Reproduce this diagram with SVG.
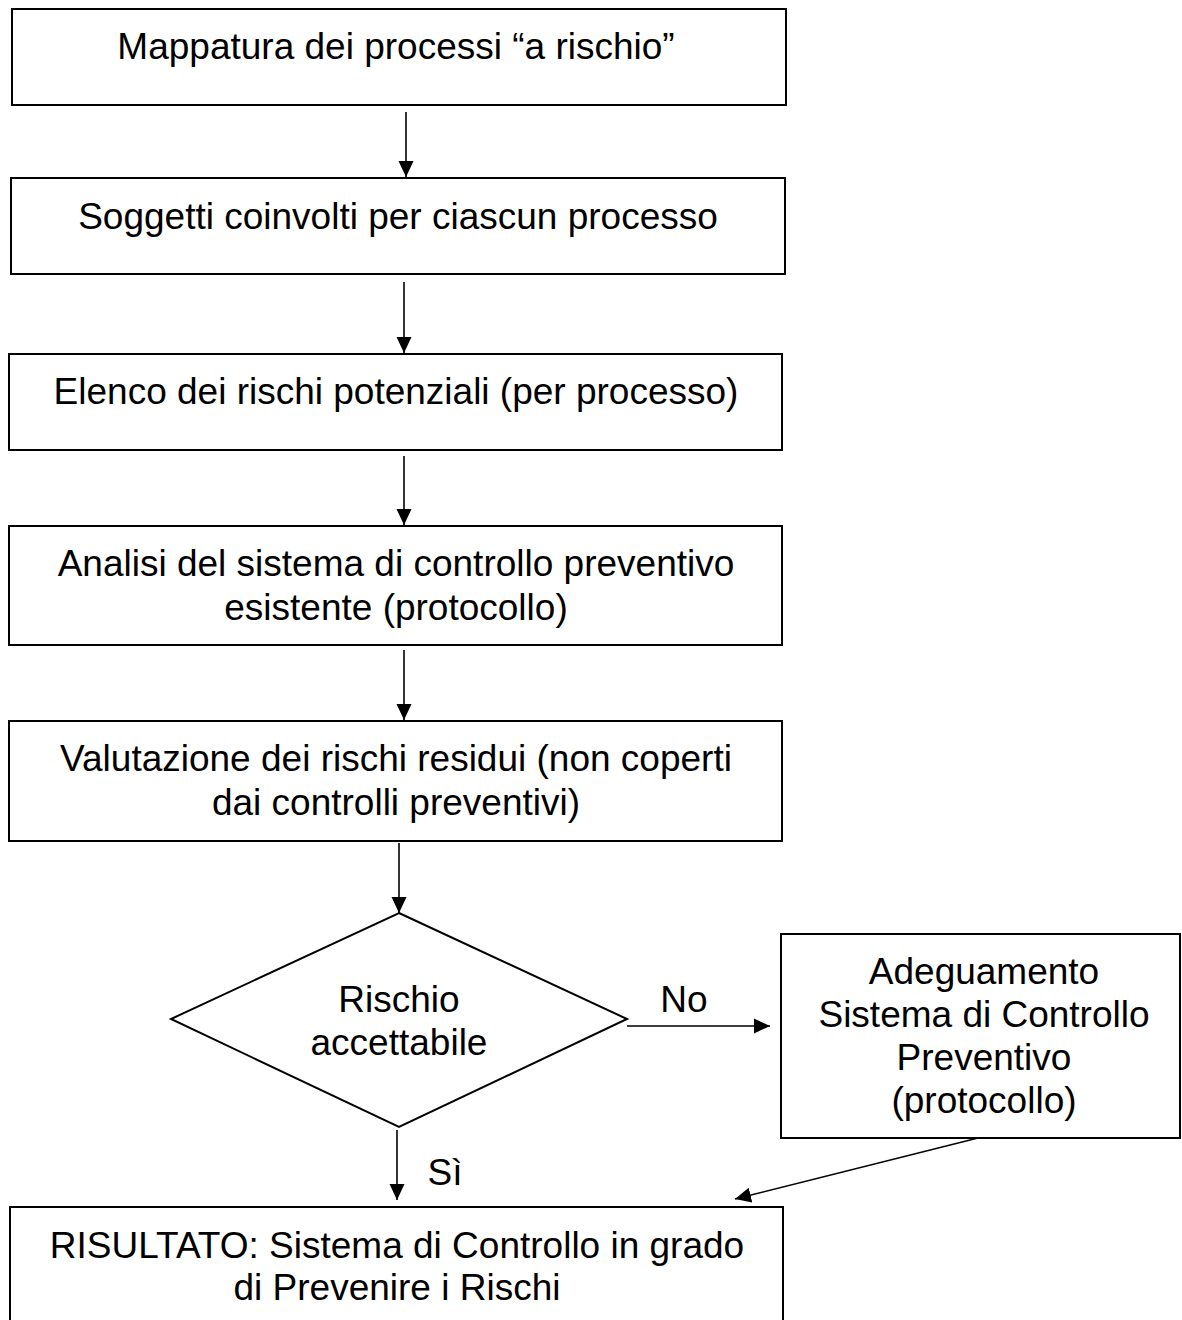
<svg xmlns="http://www.w3.org/2000/svg" width="1182" height="1320" viewBox="0 0 1182 1320">
<defs>
<style>
.box{fill:#fff;stroke:#000;stroke-width:2}
.t{font-family:"Liberation Sans",Arial,sans-serif;font-size:37px;fill:#000;text-anchor:middle}
.c{fill:none;stroke:#000;stroke-width:1.6}
</style>
<marker id="ah" markerUnits="userSpaceOnUse" markerWidth="18" markerHeight="18" viewBox="0 0 18 18" refX="16" refY="9" orient="auto">
<path d="M0,1.5 L16,9 L0,16.5 Z" fill="#000"/>
</marker>
</defs>
<rect width="1182" height="1320" fill="#fff"/>
<g id="connectors">
<line class="c" x1="406" y1="112" x2="406" y2="177" marker-end="url(#ah)"/>
<line class="c" x1="404" y1="282" x2="404" y2="353" marker-end="url(#ah)"/>
<line class="c" x1="404" y1="456" x2="404" y2="525" marker-end="url(#ah)"/>
<line class="c" x1="404" y1="650" x2="404" y2="720" marker-end="url(#ah)"/>
<line class="c" x1="399" y1="843" x2="399" y2="913" marker-end="url(#ah)"/>
<line class="c" x1="627" y1="1026" x2="770" y2="1026" marker-end="url(#ah)"/>
<line class="c" x1="397" y1="1130" x2="397" y2="1200" marker-end="url(#ah)"/>
<line class="c" x1="978" y1="1138" x2="735" y2="1199" marker-end="url(#ah)"/>
<text class="t" x="684" y="1012">No</text>
<text class="t" x="445" y="1185">Sì</text>
</g>
<g id="n1">
<rect class="box" x="12" y="9" width="774" height="96"/>
<text class="t" x="396" y="59">Mappatura dei processi “a rischio”</text>
</g>
<g id="n2">
<rect class="box" x="11" y="178" width="774" height="96"/>
<text class="t" x="398" y="229">Soggetti coinvolti per ciascun processo</text>
</g>
<g id="n3">
<rect class="box" x="9" y="354" width="773" height="96"/>
<text class="t" x="396" y="404">Elenco dei rischi potenziali (per processo)</text>
</g>
<g id="n4">
<rect class="box" x="9" y="526" width="773" height="119"/>
<text class="t" x="396" y="576">Analisi del sistema di controllo preventivo</text>
<text class="t" x="396" y="620">esistente (protocollo)</text>
</g>
<g id="n5">
<rect class="box" x="9" y="721" width="773" height="120"/>
<text class="t" x="396" y="771">Valutazione dei rischi residui (non coperti</text>
<text class="t" x="396" y="815">dai controlli preventivi)</text>
</g>
<g id="n6">
<polygon class="box" points="399,913 627,1019 399,1127 171,1019"/>
<text class="t" x="399" y="1012">Rischio</text>
<text class="t" x="399" y="1055">accettabile</text>
</g>
<g id="n7">
<rect class="box" x="781" y="934" width="399" height="204"/>
<text class="t" x="984" y="984">Adeguamento</text>
<text class="t" x="984" y="1027">Sistema di Controllo</text>
<text class="t" x="984" y="1070">Preventivo</text>
<text class="t" x="984" y="1113">(protocollo)</text>
</g>
<g id="n8">
<rect class="box" x="10" y="1207" width="773" height="130"/>
<text class="t" x="397" y="1258">RISULTATO: Sistema di Controllo in grado</text>
<text class="t" x="397" y="1300">di Prevenire i Rischi</text>
</g>
</svg>
